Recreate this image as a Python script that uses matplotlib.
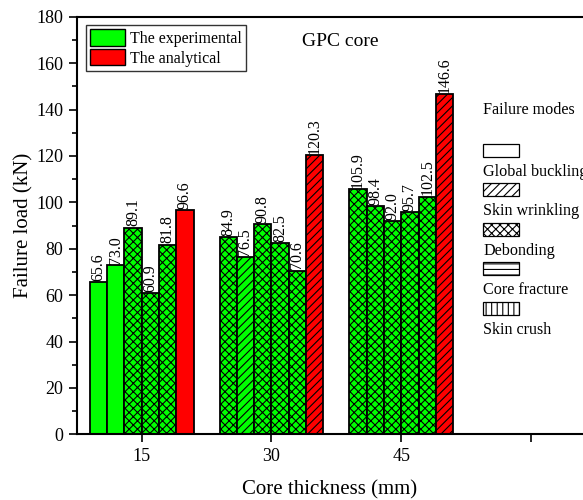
import matplotlib
matplotlib.use("Agg")
import matplotlib.pyplot as plt
from matplotlib.patches import Patch, Rectangle
from matplotlib.ticker import MultipleLocator

plt.rcParams['font.family'] = ['Liberation Serif', 'DejaVu Serif']
plt.rcParams['hatch.linewidth'] = 0.8

# core thickness (mm) and failure loads (kN)
thickness = [15, 30, 45]
experimental = [
    [65.6, 73.0, 89.1, 60.9, 81.8],
    [84.9, 76.5, 90.8, 82.5, 70.6],
    [105.9, 98.4, 92.0, 95.7, 102.5],
]
analytical = [96.6, 120.3, 146.6]

# failure mode of each specimen
mode_exp = [
    ['buckling', 'buckling', 'debond', 'debond', 'debond'],
    ['debond', 'wrinkle', 'debond', 'debond', 'debond'],
    ['debond', 'debond', 'debond', 'debond', 'debond'],
]
mode_ana = ['buckling', 'wrinkle', 'wrinkle']

mode_names = ['Global buckling', 'Skin wrinkling', 'Debonding', 'Core fracture', 'Skin crush']
mode_keys = ['buckling', 'wrinkle', 'debond', 'fracture', 'crush']
hatches = {'buckling': '', 'wrinkle': '////', 'debond': 'xxxx', 'fracture': '---', 'crush': '|||'}

bar_w = 2.0
green = '#00ff00'
red = '#ff0000'

fig = plt.figure(figsize=(5.83, 5.0), dpi=100)
ax = fig.add_axes([0.1316, 0.1314, 0.8684, 0.835])

for g, cx in enumerate(thickness):
    vals = experimental[g] + [analytical[g]]
    modes = mode_exp[g] + [mode_ana[g]]
    n = len(vals)
    for i, (v, m) in enumerate(zip(vals, modes)):
        x = cx + (i - (n - 1) / 2) * bar_w
        col = red if i == n - 1 else green
        ax.bar(x, v, width=bar_w, color=col, edgecolor='black', linewidth=1.3,
               hatch=hatches[m], zorder=2)
        ax.text(x, v + 0.5, f'{v:.1f}', rotation=90, ha='center', va='bottom',
                fontsize=11.5)

ax.set_xlim(7.5, 66.0)
ax.set_ylim(0, 180)
ax.set_xticks(thickness + [60])
ax.set_xticklabels([str(t) for t in thickness] + [''])
ax.yaxis.set_major_locator(MultipleLocator(20))
ax.yaxis.set_minor_locator(MultipleLocator(10))
ax.tick_params(axis='both', which='major', labelsize=13, length=6, width=1.2)
ax.tick_params(axis='y', which='minor', length=3.6, width=1.2)
ax.tick_params(axis='x', pad=4)
for s in ['left', 'bottom', 'top']:
    ax.spines[s].set_linewidth(1.5)
ax.spines['right'].set_visible(False)

ax.set_xlabel('Core thickness (mm)', fontsize=15, labelpad=11)
ax.set_ylabel('Failure load (kN)', fontsize=15, labelpad=2)

handles = [Patch(facecolor=green, edgecolor='black', label='The experimental'),
           Patch(facecolor=red, edgecolor='black', label='The analytical')]
leg = ax.legend(handles=handles, loc='upper left', bbox_to_anchor=(0.0178, 0.98),
                fontsize=11.5, frameon=True, fancybox=False, edgecolor='black',
                handlelength=2.2, handleheight=1.2, handletextpad=0.35,
                borderpad=0.25, labelspacing=0.15, borderaxespad=0)
leg.get_frame().set_linewidth(1.0)

fig.text(340 / 583, 1 - 42 / 500, 'GPC core', fontsize=14, ha='center', va='center')

# failure mode key, drawn in figure pixels
fig.text(483 / 583, 1 - 110 / 500, 'Failure modes', fontsize=11.6, va='center')
for k, (key, name) in enumerate(zip(mode_keys, mode_names)):
    top = 143.5 + k * 39.6
    fig.patches.append(Rectangle((483 / 583, 1 - (top + 13) / 500), 36 / 583, 13 / 500,
                                 transform=fig.transFigure, facecolor='white',
                                 edgecolor='black', linewidth=0.9, hatch=hatches[key]))
    fig.text(483 / 583, 1 - (top + 28) / 500, name, fontsize=11.6, va='center')

fig.savefig('out.png', dpi=100)
